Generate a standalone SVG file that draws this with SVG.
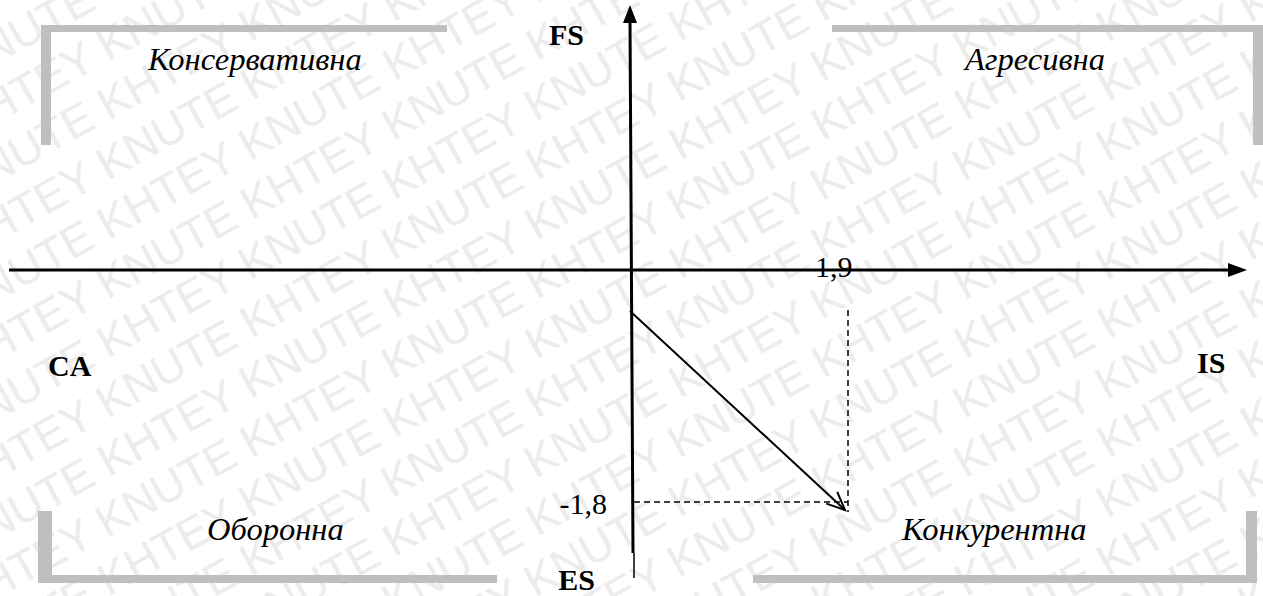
<svg xmlns="http://www.w3.org/2000/svg" width="1263" height="596" viewBox="0 0 1263 596">
<style>
.wm{font-family:"Liberation Sans",Arial,sans-serif;font-size:45px;fill:#ececec}
.lab{font-family:"Liberation Serif","Times New Roman",Times,"DejaVu Serif",serif;font-size:32.5px;font-style:italic;fill:#000}
.ax{font-family:"Liberation Serif","Times New Roman",Times,"DejaVu Serif",serif;font-size:30px;font-weight:bold;fill:#000}
.num{font-family:"Liberation Serif","Times New Roman",Times,"DejaVu Serif",serif;font-size:30px;fill:#000}
.br{fill:#bfbfbf}
.axis{stroke:#000;stroke-width:3;fill:none}
.dash{stroke:#000;stroke-width:1.5;stroke-dasharray:6 4;fill:none}
</style>
<defs>
<marker id="open" markerWidth="24" markerHeight="24" refX="20" refY="10" orient="auto" markerUnits="userSpaceOnUse">
<path d="M2,2 L20,10 L2,18" fill="none" stroke="#000" stroke-width="2"/>
</marker>
</defs>
<rect width="1263" height="596" fill="#fff"/>
<g id="watermark" transform="rotate(-29 683 397)">
<text class="wm" x="-388" y="-331">KNUTE KHTEY KNUTE KHTEY KNUTE KHTEY KNUTE KHTEY KNUTE KHTEY KNUTE KHTEY KNUTE KHTEY KNUTE KHTEY</text>
<text class="wm" x="-581" y="-279">KNUTE KHTEY KNUTE KHTEY KNUTE KHTEY KNUTE KHTEY KNUTE KHTEY KNUTE KHTEY KNUTE KHTEY KNUTE KHTEY</text>
<text class="wm" x="-446" y="-227">KNUTE KHTEY KNUTE KHTEY KNUTE KHTEY KNUTE KHTEY KNUTE KHTEY KNUTE KHTEY KNUTE KHTEY KNUTE KHTEY</text>
<text class="wm" x="-311" y="-175">KNUTE KHTEY KNUTE KHTEY KNUTE KHTEY KNUTE KHTEY KNUTE KHTEY KNUTE KHTEY KNUTE KHTEY KNUTE KHTEY</text>
<text class="wm" x="-504" y="-123">KNUTE KHTEY KNUTE KHTEY KNUTE KHTEY KNUTE KHTEY KNUTE KHTEY KNUTE KHTEY KNUTE KHTEY KNUTE KHTEY</text>
<text class="wm" x="-369" y="-71">KNUTE KHTEY KNUTE KHTEY KNUTE KHTEY KNUTE KHTEY KNUTE KHTEY KNUTE KHTEY KNUTE KHTEY KNUTE KHTEY</text>
<text class="wm" x="-562" y="-19">KNUTE KHTEY KNUTE KHTEY KNUTE KHTEY KNUTE KHTEY KNUTE KHTEY KNUTE KHTEY KNUTE KHTEY KNUTE KHTEY</text>
<text class="wm" x="-427" y="33">KNUTE KHTEY KNUTE KHTEY KNUTE KHTEY KNUTE KHTEY KNUTE KHTEY KNUTE KHTEY KNUTE KHTEY KNUTE KHTEY</text>
<text class="wm" x="-620" y="85">KNUTE KHTEY KNUTE KHTEY KNUTE KHTEY KNUTE KHTEY KNUTE KHTEY KNUTE KHTEY KNUTE KHTEY KNUTE KHTEY</text>
<text class="wm" x="-485" y="137">KNUTE KHTEY KNUTE KHTEY KNUTE KHTEY KNUTE KHTEY KNUTE KHTEY KNUTE KHTEY KNUTE KHTEY KNUTE KHTEY</text>
<text class="wm" x="-350" y="189">KNUTE KHTEY KNUTE KHTEY KNUTE KHTEY KNUTE KHTEY KNUTE KHTEY KNUTE KHTEY KNUTE KHTEY KNUTE KHTEY</text>
<text class="wm" x="-543" y="241">KNUTE KHTEY KNUTE KHTEY KNUTE KHTEY KNUTE KHTEY KNUTE KHTEY KNUTE KHTEY KNUTE KHTEY KNUTE KHTEY</text>
<text class="wm" x="-408" y="293">KNUTE KHTEY KNUTE KHTEY KNUTE KHTEY KNUTE KHTEY KNUTE KHTEY KNUTE KHTEY KNUTE KHTEY KNUTE KHTEY</text>
<text class="wm" x="-601" y="345">KNUTE KHTEY KNUTE KHTEY KNUTE KHTEY KNUTE KHTEY KNUTE KHTEY KNUTE KHTEY KNUTE KHTEY KNUTE KHTEY</text>
<text class="wm" x="-466" y="397">KNUTE KHTEY KNUTE KHTEY KNUTE KHTEY KNUTE KHTEY KNUTE KHTEY KNUTE KHTEY KNUTE KHTEY KNUTE KHTEY</text>
<text class="wm" x="-331" y="449">KNUTE KHTEY KNUTE KHTEY KNUTE KHTEY KNUTE KHTEY KNUTE KHTEY KNUTE KHTEY KNUTE KHTEY KNUTE KHTEY</text>
<text class="wm" x="-524" y="501">KNUTE KHTEY KNUTE KHTEY KNUTE KHTEY KNUTE KHTEY KNUTE KHTEY KNUTE KHTEY KNUTE KHTEY KNUTE KHTEY</text>
<text class="wm" x="-389" y="553">KNUTE KHTEY KNUTE KHTEY KNUTE KHTEY KNUTE KHTEY KNUTE KHTEY KNUTE KHTEY KNUTE KHTEY KNUTE KHTEY</text>
<text class="wm" x="-582" y="605">KNUTE KHTEY KNUTE KHTEY KNUTE KHTEY KNUTE KHTEY KNUTE KHTEY KNUTE KHTEY KNUTE KHTEY KNUTE KHTEY</text>
<text class="wm" x="-447" y="657">KNUTE KHTEY KNUTE KHTEY KNUTE KHTEY KNUTE KHTEY KNUTE KHTEY KNUTE KHTEY KNUTE KHTEY KNUTE KHTEY</text>
<text class="wm" x="-312" y="709">KNUTE KHTEY KNUTE KHTEY KNUTE KHTEY KNUTE KHTEY KNUTE KHTEY KNUTE KHTEY KNUTE KHTEY KNUTE KHTEY</text>
<text class="wm" x="-505" y="761">KNUTE KHTEY KNUTE KHTEY KNUTE KHTEY KNUTE KHTEY KNUTE KHTEY KNUTE KHTEY KNUTE KHTEY KNUTE KHTEY</text>
<text class="wm" x="-370" y="813">KNUTE KHTEY KNUTE KHTEY KNUTE KHTEY KNUTE KHTEY KNUTE KHTEY KNUTE KHTEY KNUTE KHTEY KNUTE KHTEY</text>
<text class="wm" x="-563" y="865">KNUTE KHTEY KNUTE KHTEY KNUTE KHTEY KNUTE KHTEY KNUTE KHTEY KNUTE KHTEY KNUTE KHTEY KNUTE KHTEY</text>
</g>
<g id="quad-conservative">
<rect class="br" x="41" y="25" width="406" height="7"/>
<rect class="br" x="41" y="25" width="10" height="120"/>
<text class="lab" x="148" y="70">Консервативна</text>
</g>
<g id="quad-aggressive">
<rect class="br" x="832" y="25" width="431" height="7"/>
<rect class="br" x="1253" y="25" width="10" height="120"/>
<text class="lab" x="965" y="70">Агресивна</text>
</g>
<g id="quad-defensive">
<rect class="br" x="38" y="511" width="14" height="72"/>
<rect class="br" x="38" y="575" width="459" height="8"/>
<text class="lab" x="207" y="540">Оборонна</text>
</g>
<g id="quad-competitive">
<rect class="br" x="753" y="575" width="504" height="8"/>
<rect class="br" x="1246" y="511" width="11" height="72"/>
<text class="lab" x="902" y="540">Конкурентна</text>
</g>
<g id="axis-labels">
<text class="ax" x="584" y="45" text-anchor="end">FS</text>
<text class="ax" x="48" y="376">CA</text>
<text class="ax" x="1197" y="373">IS</text>
<text class="ax" x="595" y="590" text-anchor="end">ES</text>
<text class="num" x="815" y="277">1,9</text>
<text class="num" x="607" y="514" text-anchor="end">-1,8</text>
</g>
<g id="connectors">
<line class="axis" x1="9" y1="270" x2="1230" y2="270"/>
<polygon points="1247,270 1228,263 1228,277" fill="#000"/>
<line class="axis" x1="630" y1="20" x2="633" y2="553" stroke-width="2.5"/>
<polygon points="630,5 623,23 637,23" fill="#000"/>
<line x1="634" y1="553" x2="634" y2="578" stroke="#000" stroke-width="1.5"/>
<line class="dash" x1="634" y1="502" x2="848" y2="502"/>
<line class="dash" x1="848" y1="310" x2="848" y2="512"/>
<line x1="630" y1="311" x2="845" y2="510" stroke="#000" stroke-width="2" marker-end="url(#open)"/>
</g>
</svg>
